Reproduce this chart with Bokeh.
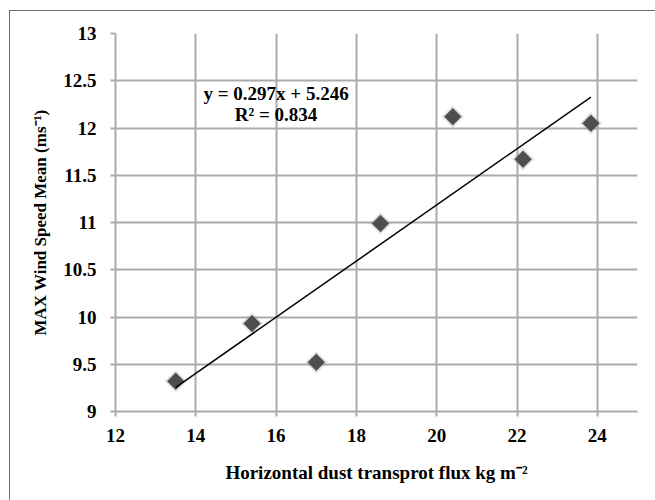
import numpy as np
from bokeh.plotting import figure
from bokeh.models import ColumnDataSource, Label, FixedTicker, Range1d, InlineStyleSheet
from bokeh.embed import file_html
from bokeh.resources import INLINE

# Data
flux = [13.5, 15.4, 17.0, 18.6, 20.4, 22.15, 23.84]
wind = [9.32, 9.93, 9.52, 10.99, 12.12, 11.67, 12.05]

slope = 0.297
intercept = 5.246
eq_text = "y = 0.297x + 5.246"
r2_text = "R\u00b2 = 0.834"

x_ticks = [12, 14, 16, 18, 20, 22, 24]
y_ticks = [9, 9.5, 10, 10.5, 11, 11.5, 12, 12.5, 13]

FONT = "Liberation Serif"
GRID = "#ababab"

p = figure(width=655, height=500, output_backend="svg", toolbar_location=None,
           x_range=Range1d(12, 25), y_range=Range1d(9, 13),
           min_border_left=115, min_border_right=18, min_border_top=33, min_border_bottom=89)
p.outline_line_color = None
p.background_fill_color = "white"
p.border_fill_color = "white"

for ax, ticks in ((p.xaxis[0], x_ticks), (p.yaxis[0], y_ticks)):
    ax.ticker = FixedTicker(ticks=ticks)
    ax.axis_line_color = GRID
    ax.axis_line_width = 2
    ax.major_tick_line_color = GRID
    ax.major_tick_line_width = 2
    ax.major_tick_out = 5
    ax.major_tick_in = 0
    ax.minor_tick_line_color = None
    ax.major_label_text_font = FONT
    ax.major_label_text_font_style = "bold"
    ax.major_label_text_font_size = "19px"
    ax.major_label_text_color = "black"
    ax.axis_label_text_font = FONT
    ax.axis_label_text_font_style = "bold"
    ax.axis_label_text_color = "black"

p.xaxis[0].axis_label_text_font_size = "19px"
p.yaxis[0].axis_label_text_font_size = "17px"
p.xaxis[0].major_label_standoff = 12
p.yaxis[0].major_label_standoff = 14
p.xaxis[0].axis_label = "Horizontal dust transprot flux kg m\u207b\u00b2"
p.yaxis[0].axis_label = "MAX Wind Speed Mean (ms\u207b\u00b9)"
p.xaxis[0].axis_label_standoff = 17
p.yaxis[0].axis_label_standoff = 10

p.xgrid.ticker = FixedTicker(ticks=x_ticks)
p.ygrid.ticker = FixedTicker(ticks=y_ticks)
p.xgrid.grid_line_color = GRID
p.ygrid.grid_line_color = GRID
p.xgrid.grid_line_width = 2
p.ygrid.grid_line_width = 2

xs = np.array([min(flux), max(flux)])

src = ColumnDataSource(dict(x=flux, y=wind))
# soft shadow
p.scatter("x", "y", source=src, marker="square", size=16, angle=np.pi / 4,
          fill_color="#999999", fill_alpha=0.25, line_color=None)
p.scatter("x", "y", source=src, marker="square", size=12, angle=np.pi / 4,
          fill_color="#4e4e4e", line_color="#5a5a5a", line_width=0.5)
# trendline over data extent
p.line(xs, slope * xs + intercept, line_color="black", line_width=1.5)

p.add_layout(Label(x=16.0, y=12.37, text=eq_text, text_align="center", text_baseline="middle",
                   text_font=FONT, text_font_style="bold", text_font_size="19px", text_color="black"))
p.add_layout(Label(x=16.0, y=12.14, text=r2_text, text_align="center", text_baseline="middle",
                   text_font=FONT, text_font_style="bold", text_font_size="19px", text_color="black"))

# outer border of the figure image, drawn with CSS
p.stylesheets = [InlineStyleSheet(css="""
:host { overflow: hidden; }
:host::after {
  content: ''; position: absolute; left: 9px; top: 10px; width: 700px; height: 700px;
  border: 1.5px solid #6e6e6e; pointer-events: none; z-index: 10;
}
""")]

open("out.html", "w").write(file_html(p, INLINE))
